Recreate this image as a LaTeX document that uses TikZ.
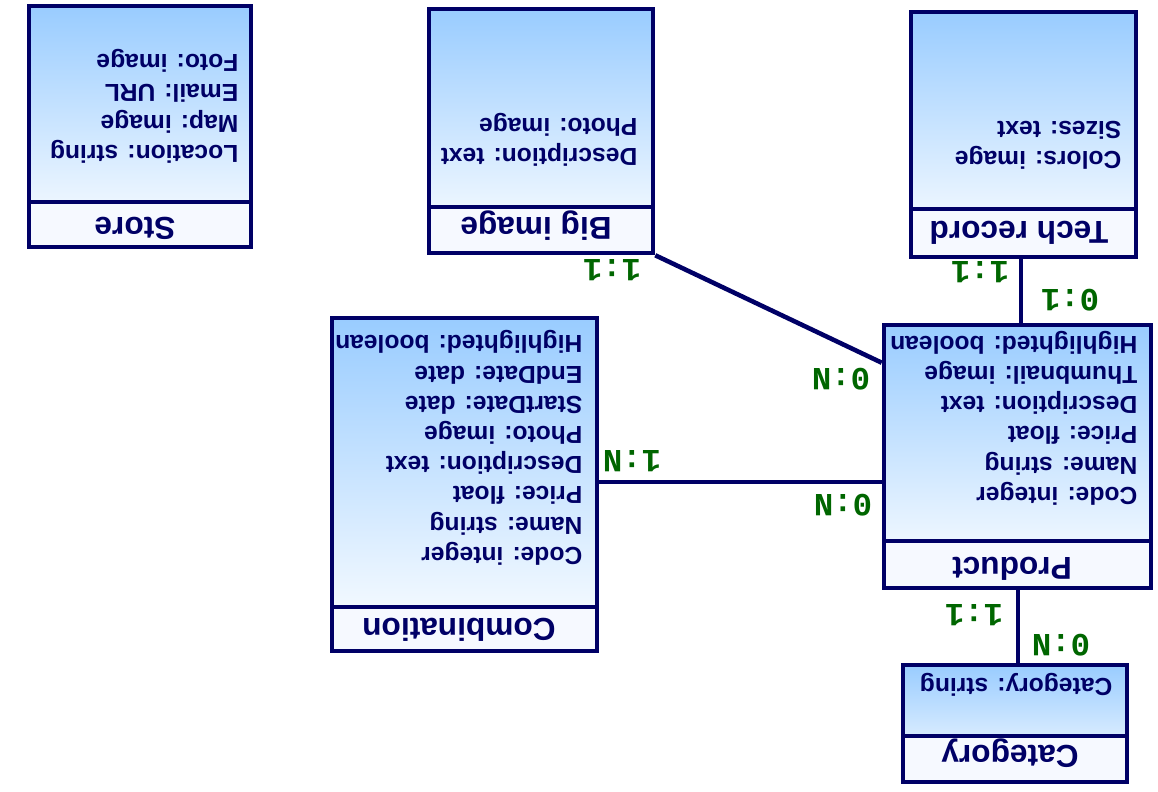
\documentclass[tikz,border=0pt]{standalone}
\usepackage{fontspec}
\setmainfont{Liberation Sans}
\newfontfamily\cardfont{Liberation Mono}
\usetikzlibrary{calc}
\usetikzlibrary{fit}

\definecolor{navy}{HTML}{000066}
\definecolor{cardgreen}{HTML}{006600}
\definecolor{sky}{HTML}{99CCFF}
\definecolor{pale}{HTML}{F6F9FF}

\tikzset{
    entity/.style={draw=navy,line width=1.3pt,inner sep=0pt,top color=sky,bottom color=white,
        path picture={
            \fill[pale] (path picture bounding box.south west) rectangle ([yshift=#1]path picture bounding box.south east);
            \draw[navy,line width=1.3pt] ([yshift=#1]path picture bounding box.south west)--([yshift=#1]path picture bounding box.south east);
        }},
    title/.style={rotate=180,anchor=base,text=navy,font=\fontsize{9}{11}\selectfont\bfseries},
    attrs/.style={rotate=180,anchor=north west,align=left,inner sep=0pt,text=navy,font=\fontsize{7}{8.6}\selectfont\bfseries},
    link/.style={draw=navy,line width=1.3pt},
    card/.style={rotate=180,text=cardgreen,font=\fontsize{9.2}{11}\selectfont\cardfont\bfseries}
}

\begin{document}
\begin{tikzpicture}[x=0.01cm,y=-0.01cm]
    \useasboundingbox (0,0) rectangle (1158,791);
    \node[entity=0.45cm,fit={(29,6) (251,247)}] (store) {};
    \node[entity=0.46cm,fit={(429,9) (653,253)}] (bigimage) {};
    \node[entity=0.48cm,fit={(911,12) (1136,257)}] (techrecord) {};
    \node[entity=0.44cm,fit={(332,318) (597,651)}] (combination) {};
    \node[entity=0.47cm,fit={(884,325) (1151,588)}] (product) {};
    \node[entity=0.46cm,fit={(903,665) (1127,782)}] (category) {};

    \node[title] (storetitle) at (135,217) {Store};
    \node[title] (bigimagetitle) at (536,218) {Big image};
    \node[title] (techrecordtitle) at (1019,222) {Tech record};
    \node[title] (combinationtitle) at (459,618) {Combination};
    \node[title] (producttitle) at (1012,557) {Product};
    \node[title] (categorytitle) at (1010,745) {Category};

    \node[attrs] (storeattrs) at (239,164) {Location: string\\Map: image\\Email: URL\\Foto: image};
    \node[attrs] (bigimageattrs) at (638,167) {Description: text\\Photo: image};
    \node[attrs] (techrecordattrs) at (1122,170) {Colors: image\\Sizes: text};
    \node[attrs] (combinationattrs) at (583,566) {Code: integer\\Name: string\\Price: float\\Description: text\\Photo: image\\StartDate: date\\EndDate: date\\Highlighted: boolean};
    \node[attrs] (productattrs) at (1138,506) {Code: integer\\Name: string\\Price: float\\Description: text\\Thumbnail: image\\Highlighted: boolean};
    \node[attrs] (categoryattrs) at (1113,697) {Category: string};

    \draw[link] (bigimage.south east) -- ($(product.north west)+(0,40)$);
    \draw[link] (combination.east |- 0,482) -- (product.west |- 0,482);
    \draw[link] (techrecord.south -| 1021,0) -- (product.north -| 1021,0);
    \draw[link] (product.south -| 1018,0) -- (category.north -| 1018,0);

    \foreach \x/\y/\t [count=\i] in {612/270/1:1,841/379/0:N,632/461/1:N,843/505/0:N,980/272/1:1,1070/300/0:1,974/615/1:1,1061/645/0:N}
    {
        \node[card] (card\i) at (\x,\y) {\t};
    }
\end{tikzpicture}
\end{document}
